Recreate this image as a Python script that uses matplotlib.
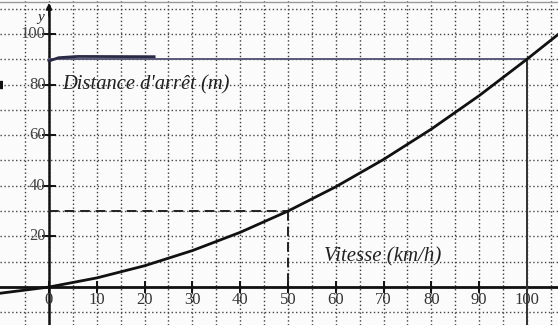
import matplotlib
matplotlib.use("Agg")
import matplotlib.pyplot as plt
import numpy as np

# Data
vitesse = [-10, 0, 10, 20, 30, 40, 50, 60, 70, 80, 90, 100, 107]
distance = [-2.4, 0, 3.6, 8.4, 14.4, 21.6, 30, 39.6, 50.4, 62.4, 75.6, 90, 100.5]
x_ticks = [0, 10, 20, 30, 40, 50, 60, 70, 80, 90, 100]
x_tick_labels = ["0", "10", "20", "30", "40", "50", "60", "70", "80", "90", "100"]
y_ticks = [20, 40, 60, 80, 100]
y_tick_labels = ["20", "40", "60", "80", "100"]
v_marked = [50, 100]
d_marked = [30, 90]

XMIN, XMAX = -10.25, 106.5
YMIN, YMAX = -15.0, 113.4

fig = plt.figure(figsize=(5.58, 3.25), dpi=100)
fig.patch.set_facecolor("#fbfbfb")
ax = fig.add_axes([0, 0, 1, 1])
ax.set_facecolor("#fbfbfb")
ax.set_xlim(XMIN, XMAX)
ax.set_ylim(YMIN, YMAX)
ax.axis("off")

serif = ["Liberation Serif", "DejaVu Serif"]

# dotted grid
for gx in np.arange(-5, 106, 5):
    ax.plot([gx, gx], [YMIN, YMAX], ls=(0, (1, 1.8)), color="#3a3a3a", lw=1.0, zorder=1)
for gy in np.arange(-10, 111, 10):
    ax.plot([XMIN, XMAX], [gy, gy], ls=(0, (1, 1.8)), color="#444444", lw=1.0, zorder=1)

# top scan border
ax.plot([XMIN, XMAX], [112.6, 112.6], color="#9a9a9a", lw=1.0, zorder=1)
ax.plot([XMIN, XMIN + 0.7], [80, 80], color="#111111", lw=6, solid_capstyle="butt", zorder=2)

# axes
ax.plot([XMIN, XMAX], [0, 0], color="#111111", lw=2.0, zorder=3)
ax.plot([0, 0], [YMIN, 111], color="#111111", lw=1.8, zorder=3)
ax.annotate("", xy=(0, 113.3), xytext=(0, 106),
            arrowprops=dict(arrowstyle="-|>", color="#111111", lw=1.2, mutation_scale=9), zorder=3)
ax.text(-1.0, 106.5, "y", fontsize=11, style="italic", family=serif, ha="right", va="center", color="#222222")

# ticks and labels
for t, lab in zip(x_ticks, x_tick_labels):
    ax.plot([t, t], [-1.8, 1.8], color="#111111", lw=1.4, zorder=3)
    ax.text(t, -5.3, lab, fontsize=12, family=serif, ha="center", va="center", color="#333333")
for t, lab in zip(y_ticks, y_tick_labels):
    ax.plot([-1.2, 1.2], [t, t], color="#111111", lw=1.4, zorder=3)
    ax.text(-0.7, t, lab, fontsize=12, family=serif, ha="right", va="center", color="#444444")

# curve
ax.plot(vitesse, distance, color="#111111", lw=2.0, zorder=4)

# marked points: dashed for 50 km/h, solid for 100 km/h
ax.plot([0, v_marked[0]], [d_marked[0], d_marked[0]], color="#222222", lw=1.4, ls=(0, (5, 3)), zorder=3)
ax.plot([v_marked[0], v_marked[0]], [d_marked[0], 0], color="#222222", lw=1.4, ls=(0, (5, 3)), zorder=3)
ax.plot([0, v_marked[1]], [d_marked[1], d_marked[1]], color="#5a5a7a", lw=1.4, zorder=3)
ax.plot([v_marked[1], v_marked[1]], [d_marked[1], YMIN], color="#333333", lw=1.4, zorder=3)
ax.plot([0, 2, 6, 22], [89.3, 90.6, 91.1, 91.0], color="#2a2a45", lw=2.0, zorder=4)

# axis texts
ax.text(2.8, 80, "Distance d'arrêt (m)", fontsize=14.8, style="italic", family=serif,
        ha="left", va="center", color="#222222", zorder=5)
ax.text(57.5, 11.8, "Vitesse (km/h)", fontsize=15, style="italic", family=serif,
        ha="left", va="center", color="#222222", zorder=5)

fig.savefig("out.png", dpi=100, facecolor=fig.get_facecolor())
